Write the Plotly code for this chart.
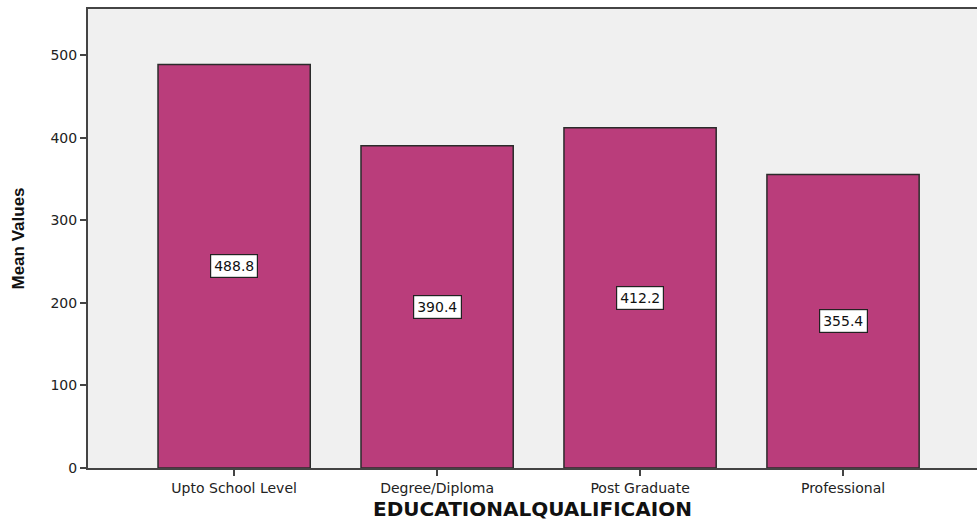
import plotly.graph_objects as go

categories = ["Upto School Level", "Degree/Diploma", "Post Graduate", "Professional"]
mean_values = [488.8, 390.4, 412.2, 355.4]
y_ticks = [0, 100, 200, 300, 400, 500]

bar_color = "#BA3D7B"
label_font = "DejaVu Sans, Liberation Sans, Arial, sans-serif"

fig = go.Figure()
fig.add_trace(go.Bar(
    x=categories,
    y=mean_values,
    width=0.75,
    marker=dict(color=bar_color, line=dict(color="#2b2b2b", width=1.5)),
    hoverinfo="x+y",
))

# boxed value labels centred in each bar
for cat, val in zip(categories, mean_values):
    fig.add_annotation(
        x=cat, y=val / 2, text=f"{val:.1f}", showarrow=False,
        font=dict(family=label_font, size=14, color="#111"),
        bgcolor="white", bordercolor="#222", borderwidth=1.2, borderpad=3,
    )

# y-axis title placed as rotated annotation
fig.add_annotation(
    xref="paper", yref="paper", x=(18 - 88) / 889, y=0.5,
    text="<b>Mean Values</b>", textangle=-90, showarrow=False,
    xanchor="center", yanchor="middle",
    font=dict(family="Liberation Sans, Arial, sans-serif", size=17, color="#111"),
)

fig.update_layout(
    width=977, height=523,
    margin=dict(l=88, r=0, t=9, b=55),
    paper_bgcolor="white",
    plot_bgcolor="#F0F0F0",
    showlegend=False,
    font=dict(family=label_font, size=14, color="#222"),
)
fig.update_xaxes(
    range=[-0.72, 3.66],
    showline=True, linecolor="#444", linewidth=2, mirror=True,
    ticks="outside", ticklen=6, tickcolor="#444", tickwidth=1.5,
    tickfont=dict(family=label_font, size=14, color="#222"),
    title=dict(text="<b>EDUCATIONALQUALIFICAION</b>",
               font=dict(family=label_font, size=20, color="#111"), standoff=7),
    showgrid=False,
)
fig.update_yaxes(
    range=[0, 556],
    tickvals=y_ticks,
    showline=True, linecolor="#444", linewidth=2,
    ticks="outside", ticklen=6, tickcolor="#444", tickwidth=1.5,
    tickfont=dict(family=label_font, size=14, color="#222"),
    showgrid=False, zeroline=False,
)

fig.write_html("out.html")
